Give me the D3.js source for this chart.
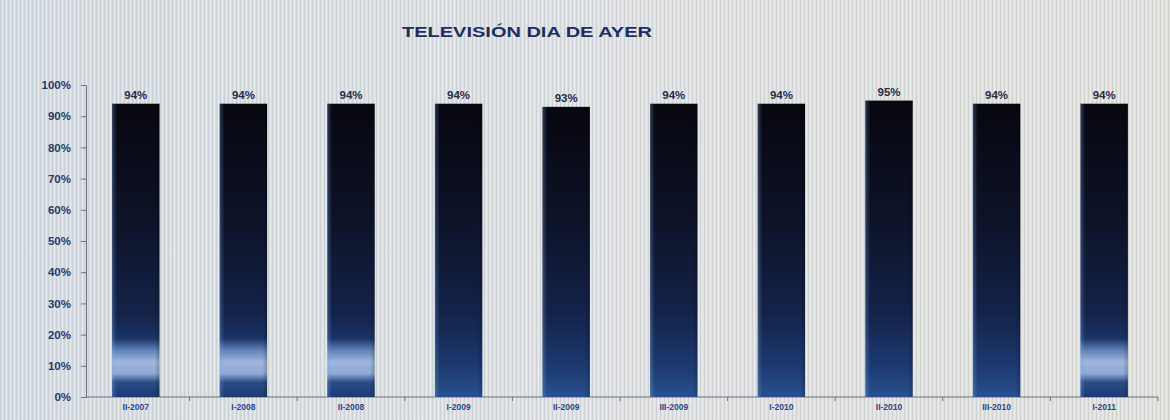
<!DOCTYPE html>
<html>
<head>
<meta charset="utf-8">
<script src="https://cdn.jsdelivr.net/npm/d3@7"></script>
<style>
  html, body { margin: 0; padding: 0; background: #dde1e2; }
  svg { display: block; }
</style>
</head>
<body>
<svg id="chart" width="1170" height="420"></svg>
<script>
// Share of people who watched television the day before, by survey wave
const periods = ["II-2007", "I-2008", "II-2008", "I-2009", "II-2009", "III-2009", "I-2010", "II-2010", "III-2010", "I-2011"];
const shares = [94, 94, 94, 94, 93, 94, 94, 95, 94, 94];
const yTicks = [0, 10, 20, 30, 40, 50, 60, 70, 80, 90, 100];
// Waves whose bars carry a pale band near the base
const paleBandPeriods = ["II-2007", "I-2008", "II-2008", "I-2011"];

const W = 1170, H = 420;
const margin = { top: 85, right: 12, bottom: 23, left: 82 };

const svg = d3.select("#chart");
const defs = svg.append("defs");

// Background: light grey-blue fading to warm grey, with fine vertical striping
const bg = defs.append("linearGradient").attr("id", "bg").attr("x1", 0).attr("x2", 1).attr("y1", 0).attr("y2", 0);
bg.append("stop").attr("offset", "0%").attr("stop-color", "#d6dde2");
bg.append("stop").attr("offset", "55%").attr("stop-color", "#dfe2e3");
bg.append("stop").attr("offset", "100%").attr("stop-color", "#e2e1dc");
const stripes = defs.append("pattern").attr("id", "stripes").attr("patternUnits", "userSpaceOnUse")
  .attr("width", 4).attr("height", 4);
stripes.append("rect").attr("width", 1).attr("height", 4).attr("fill", "#b9bfc4").attr("opacity", 0.4);
stripes.append("rect").attr("x", 2).attr("width", 1).attr("height", 4).attr("fill", "#ffffff").attr("opacity", 0.3);

svg.append("rect").attr("width", W).attr("height", H).attr("fill", "url(#bg)");
svg.append("rect").attr("width", W).attr("height", H).attr("fill", "url(#stripes)");

// Bar fill: near-black navy at the top, brightening to mid blue at the base
const barGrad = defs.append("linearGradient").attr("id", "barGrad").attr("x1", 0).attr("x2", 0).attr("y1", 0).attr("y2", 1);
[["0%", "#07070f"], ["40%", "#0d1328"], ["72%", "#14234a"], ["90%", "#1d3a72"], ["100%", "#27528e"]]
  .forEach(([o, c]) => barGrad.append("stop").attr("offset", o).attr("stop-color", c));

const barGradPale = defs.append("linearGradient").attr("id", "barGradPale").attr("x1", 0).attr("x2", 0).attr("y1", 0).attr("y2", 1);
[["0%", "#07070f"], ["40%", "#0d1328"], ["72%", "#14234a"], ["80%", "#1a3366"], ["84%", "#5e80b8"],
 ["88%", "#9fb6dc"], ["92%", "#8ea9d4"], ["95%", "#2a4c86"], ["100%", "#1c3a72"]]
  .forEach(([o, c]) => barGradPale.append("stop").attr("offset", o).attr("stop-color", c));

// Soft side sheen on the bars
const sheen = defs.append("linearGradient").attr("id", "sheen").attr("x1", 0).attr("x2", 1).attr("y1", 0).attr("y2", 0);
sheen.append("stop").attr("offset", "0%").attr("stop-color", "#6fa0e0").attr("stop-opacity", 0.35);
sheen.append("stop").attr("offset", "10%").attr("stop-color", "#6fa0e0").attr("stop-opacity", 0);
sheen.append("stop").attr("offset", "90%").attr("stop-color", "#000").attr("stop-opacity", 0);
sheen.append("stop").attr("offset", "100%").attr("stop-color", "#000").attr("stop-opacity", 0.2);

const x = d3.scaleBand().domain(periods).range([margin.left, W - margin.right]).paddingInner(0.56).paddingOuter(0.28);
const y = d3.scaleLinear().domain([0, 100]).range([H - margin.bottom, margin.top]);

const axisColor = "#6d737c";
const labelColor = "#27396c";

// Title
svg.append("text")
  .attr("x", 527).attr("y", 37)
  .attr("text-anchor", "middle")
  .attr("font-family", "Liberation Sans, Arial, sans-serif")
  .attr("font-weight", "bold")
  .attr("font-size", 14)
  .attr("textLength", 250)
  .attr("lengthAdjust", "spacingAndGlyphs")
  .attr("fill", "#1d2e62")
  .text("TELEVISIÓN DIA DE AYER");

// Y axis
const yAxis = d3.axisLeft(y).tickValues(yTicks).tickFormat(d => d + "%").tickSize(5).tickPadding(10);
const gy = svg.append("g").attr("transform", `translate(${margin.left + 4},0)`).call(yAxis);
gy.select(".domain").attr("stroke", axisColor);
gy.selectAll(".tick line").attr("stroke", axisColor);
gy.selectAll(".tick text")
  .attr("font-family", "Liberation Sans, Arial, sans-serif")
  .attr("font-weight", "bold")
  .attr("font-size", 11.5)
  .attr("fill", labelColor);

// X axis: baseline, tick marks between categories, category labels
const baseY = y(0);
const gx = svg.append("g");
gx.append("line")
  .attr("x1", margin.left + 4).attr("x2", W - margin.right)
  .attr("y1", baseY).attr("y2", baseY)
  .attr("stroke", axisColor);
const step = x.step();
const boundaries = periods.map(p => x(p) + x.bandwidth() / 2 + step / 2);
gx.selectAll(".sep").data(boundaries).join("line")
  .attr("x1", d => d).attr("x2", d => d)
  .attr("y1", baseY).attr("y2", baseY + 4)
  .attr("stroke", axisColor);
gx.selectAll(".cat").data(periods).join("text")
  .attr("x", d => x(d) + x.bandwidth() / 2)
  .attr("y", baseY + 13)
  .attr("text-anchor", "middle")
  .attr("font-family", "Liberation Sans, Arial, sans-serif")
  .attr("font-weight", "bold")
  .attr("font-size", 8.5)
  .attr("fill", "#33458a")
  .text(d => d);

// Bars
const data = periods.map((p, i) => ({ period: p, value: shares[i] }));
const bars = svg.append("g");
bars.selectAll("rect.bar").data(data).join("rect")
  .attr("class", "bar")
  .attr("x", d => x(d.period))
  .attr("y", d => y(d.value))
  .attr("width", x.bandwidth())
  .attr("height", d => baseY - y(d.value))
  .attr("fill", d => paleBandPeriods.includes(d.period) ? "url(#barGradPale)" : "url(#barGrad)");
bars.selectAll("rect.sheen").data(data).join("rect")
  .attr("class", "sheen")
  .attr("x", d => x(d.period))
  .attr("y", d => y(d.value))
  .attr("width", x.bandwidth())
  .attr("height", d => baseY - y(d.value))
  .attr("fill", "url(#sheen)");

// Value labels above bars
svg.append("g").selectAll("text").data(data).join("text")
  .attr("x", d => x(d.period) + x.bandwidth() / 2)
  .attr("y", d => y(d.value) - 5)
  .attr("text-anchor", "middle")
  .attr("font-family", "Liberation Sans, Arial, sans-serif")
  .attr("font-weight", "bold")
  .attr("font-size", 11.5)
  .attr("fill", "#272c48")
  .text(d => d.value + "%");
</script>
</body>
</html>
